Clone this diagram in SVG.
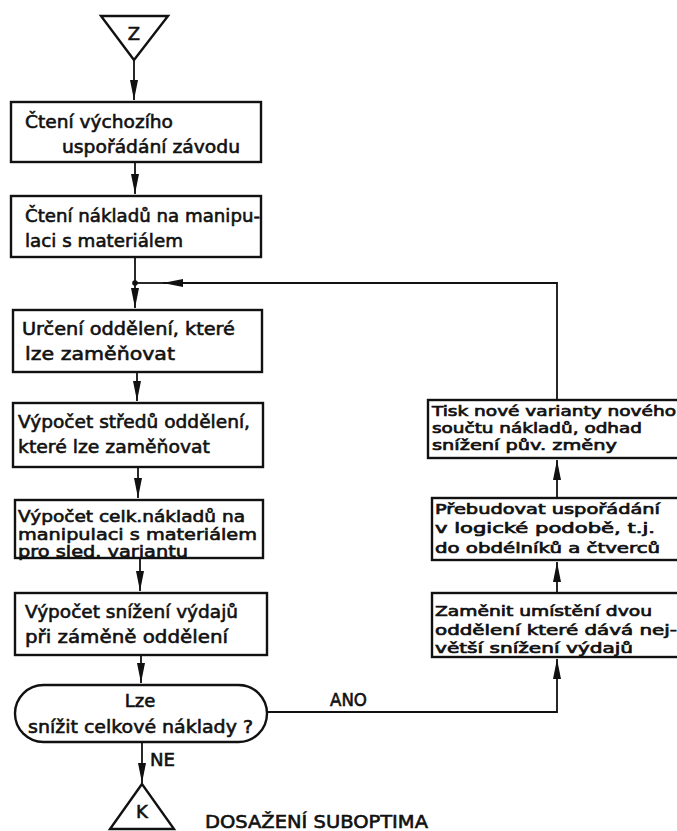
<svg xmlns="http://www.w3.org/2000/svg" width="677" height="831" viewBox="0 0 677 831">
<defs>
<marker id="ah" viewBox="0 0 20 8" refX="20" refY="4" markerWidth="20" markerHeight="8" markerUnits="userSpaceOnUse" orient="auto">
<path d="M0,0 L20,4 L0,8 Z" fill="#111"/>
</marker>
</defs>
<style>
.box{fill:#fff;stroke:#111;stroke-width:2.4}
.ln{fill:none;stroke:#111;stroke-width:1.8}
.t{font-family:"DejaVu Sans",sans-serif;font-size:18px;fill:#111;stroke:#111;stroke-width:0.6}
.c{font-size:15.5px}
.s{font-family:"DejaVu Sans",sans-serif;font-size:14.5px;fill:#111;stroke:#111;stroke-width:0.7}
</style>
<rect width="677" height="831" fill="#fff"/>
<g id="connectors">
<path class="ln" d="M134,60 V100" marker-end="url(#ah)"/>
<path class="ln" d="M135,162 V194" marker-end="url(#ah)"/>
<path class="ln" d="M135,257 V308" marker-end="url(#ah)"/>
<path class="ln" d="M557,400 V283 H163" marker-end="url(#ah)"/>
<path class="ln" d="M163,283 H135"/>
<circle cx="135" cy="283" r="2.8" fill="#111"/>
<path class="ln" d="M137,372 V401" marker-end="url(#ah)"/>
<path class="ln" d="M138,467 V498" marker-end="url(#ah)"/>
<path class="ln" d="M140,558 V591" marker-end="url(#ah)"/>
<path class="ln" d="M141,655 V683" marker-end="url(#ah)"/>
<path class="ln" d="M142,742 V783" marker-end="url(#ah)"/>
<path class="ln" d="M267,712 H557 V659" marker-end="url(#ah)"/>
<path class="ln" d="M557,593 V562" marker-end="url(#ah)"/>
<path class="ln" d="M557,498 V460" marker-end="url(#ah)"/>
</g>
<g id="start">
<polygon class="box" points="101,16 168,16 134,60"/>
<text class="t" x="134" y="40" text-anchor="middle">Z</text>
</g>
<g id="n1">
<rect class="box" x="11" y="102" width="250" height="60"/>
<text class="t" x="25" y="128" textLength="148" lengthAdjust="spacingAndGlyphs">Čtení výchozího</text>
<text class="t" x="62" y="153" textLength="178" lengthAdjust="spacingAndGlyphs">uspořádání závodu</text>
</g>
<g id="n2">
<rect class="box" x="11" y="196" width="250" height="61"/>
<text class="t" x="25" y="222" textLength="235" lengthAdjust="spacingAndGlyphs">Čtení nákladů na manipu-</text>
<text class="t" x="25" y="247" textLength="158" lengthAdjust="spacingAndGlyphs">laci s materiálem</text>
</g>
<g id="n3">
<rect class="box" x="13" y="310" width="249" height="62"/>
<text class="t" x="22" y="335" textLength="213" lengthAdjust="spacingAndGlyphs">Určení oddělení, které</text>
<text class="t" x="25" y="360" textLength="150" lengthAdjust="spacingAndGlyphs">lze zaměňovat</text>
</g>
<g id="n4">
<rect class="box" x="13" y="403" width="250" height="64"/>
<text class="t" x="18" y="428" textLength="232" lengthAdjust="spacingAndGlyphs">Výpočet středů oddělení,</text>
<text class="t" x="18" y="453" textLength="192" lengthAdjust="spacingAndGlyphs">které lze zaměňovat</text>
</g>
<g id="n5">
<rect class="box" x="15" y="500" width="248" height="58"/>
<text class="t c" x="18" y="522" textLength="227" lengthAdjust="spacingAndGlyphs">Výpočet celk.nákladů na</text>
<text class="t c" x="18" y="540" textLength="239" lengthAdjust="spacingAndGlyphs">manipulaci s materiálem</text>
<text class="t c" x="18" y="557" textLength="170" lengthAdjust="spacingAndGlyphs">pro sled. variantu</text>
</g>
<g id="n6">
<rect class="box" x="15" y="593" width="252" height="62"/>
<text class="t" x="25" y="618" textLength="213" lengthAdjust="spacingAndGlyphs">Výpočet snížení výdajů</text>
<text class="t" x="25" y="643" textLength="203" lengthAdjust="spacingAndGlyphs">při záměně oddělení</text>
</g>
<g id="decision">
<rect class="box" x="15" y="685" width="252" height="57" rx="28.5" ry="28.5"/>
<text class="t" x="140" y="707" text-anchor="middle">Lze</text>
<text class="t" x="28" y="733" textLength="225" lengthAdjust="spacingAndGlyphs">snížit celkové náklady ?</text>
</g>
<g id="labels">
<text class="t" x="330" y="706" textLength="37" lengthAdjust="spacingAndGlyphs">ANO</text>
<text class="t" x="150" y="766" textLength="25" lengthAdjust="spacingAndGlyphs">NE</text>
</g>
<g id="r1">
<rect class="box" x="428" y="400" width="255" height="58"/>
<text class="s" x="432" y="416" textLength="244" lengthAdjust="spacingAndGlyphs">Tisk nové varianty nového</text>
<text class="s" x="432" y="433" textLength="210" lengthAdjust="spacingAndGlyphs">součtu nákladů, odhad</text>
<text class="s" x="432" y="450" textLength="185" lengthAdjust="spacingAndGlyphs">snížení pův. změny</text>
</g>
<g id="r2">
<rect class="box" x="432" y="498" width="251" height="62"/>
<text class="s" x="435" y="514" textLength="225" lengthAdjust="spacingAndGlyphs">Přebudovat uspořádání</text>
<text class="s" x="435" y="533" textLength="220" lengthAdjust="spacingAndGlyphs">v logické podobě, t.j.</text>
<text class="s" x="435" y="553" textLength="225" lengthAdjust="spacingAndGlyphs">do obdélníků a čtverců</text>
</g>
<g id="r3">
<rect class="box" x="432" y="593" width="251" height="64"/>
<text class="s" x="435" y="616" textLength="217" lengthAdjust="spacingAndGlyphs">Zaměnit umístění dvou</text>
<text class="s" x="435" y="635" textLength="242" lengthAdjust="spacingAndGlyphs">oddělení které dává nej-</text>
<text class="s" x="435" y="653" textLength="198" lengthAdjust="spacingAndGlyphs">větší snížení výdajů</text>
</g>
<g id="end">
<polygon class="box" points="142,784 110,829 174,829"/>
<text class="t" x="142" y="818" text-anchor="middle">K</text>
<text class="t" x="205" y="828" textLength="223" lengthAdjust="spacingAndGlyphs">DOSAŽENÍ  SUBOPTIMA</text>
</g>
</svg>
